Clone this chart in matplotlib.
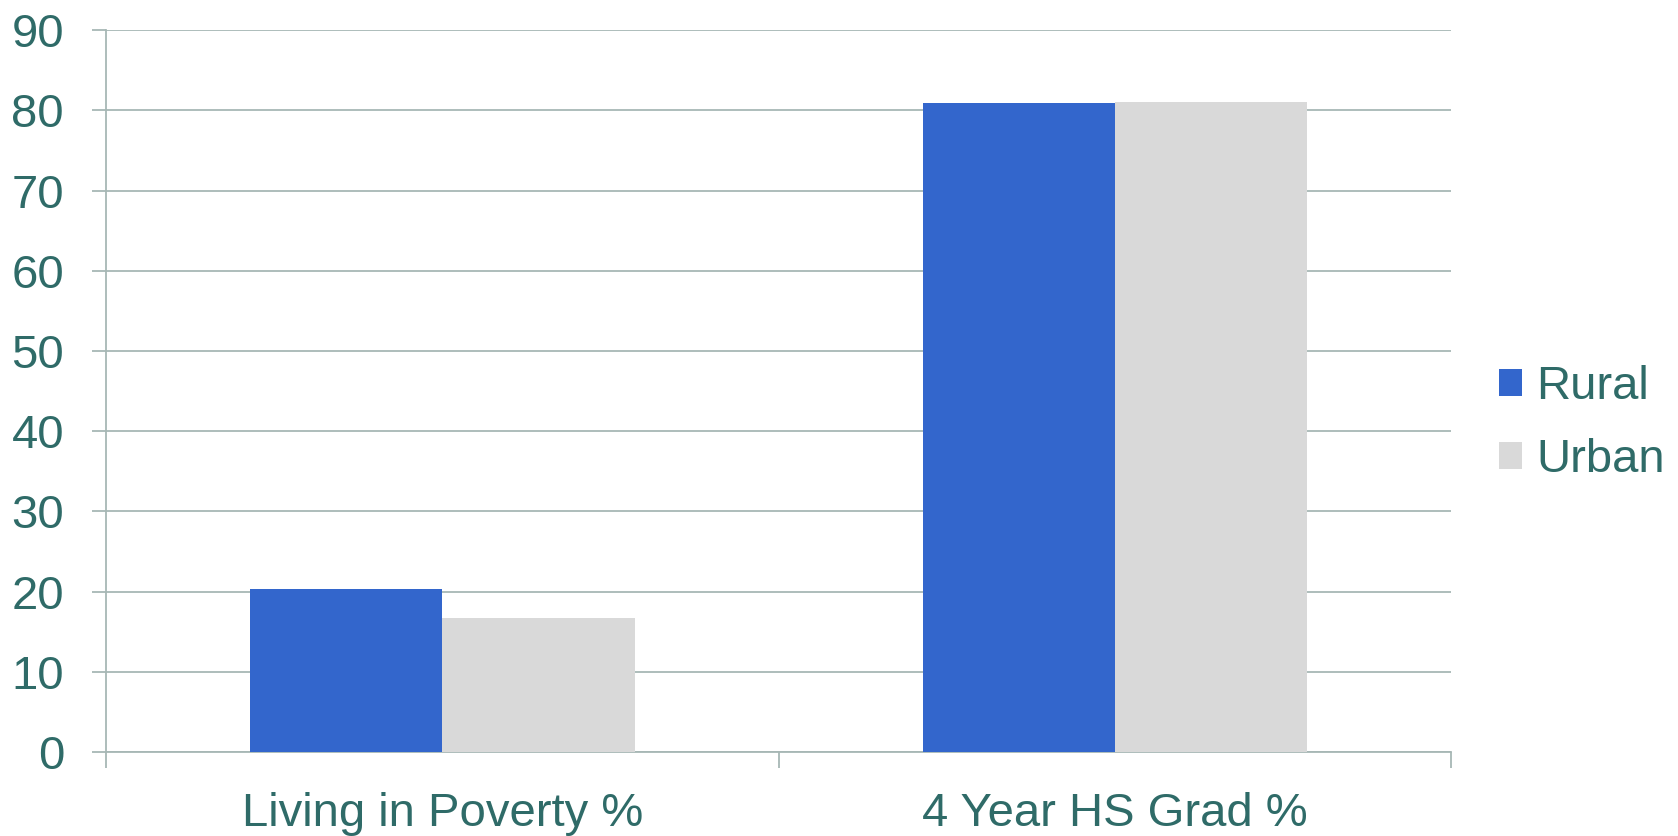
import matplotlib.pyplot as plt
import numpy as np

plt.rcParams['font.family'] = ['Liberation Sans', 'DejaVu Sans']

# chart data
categories = ['Living in Poverty %', '4 Year HS Grad %']
series = ['Rural', 'Urban']
rural = [20.3, 80.9]
urban = [16.7, 81.0]
colors = ['#3366cc', '#d9d9d9']

text_col = '#2f6b68'
grid_col = '#a7b7b5'

fig = plt.figure(figsize=(16.78, 8.36), dpi=100)
ax = fig.add_axes([0.063, 0.1005, 0.802, 0.8635])

x = np.arange(len(categories))
w = 0.286
ax.bar(x - w / 2, rural, w, color=colors[0], label=series[0], zorder=3)
ax.bar(x + w / 2, urban, w, color=colors[1], label=series[1], zorder=3)

ax.set_xlim(-0.5, len(categories) - 0.5)
ax.set_ylim(0, 90)
ax.set_yticks(np.arange(0, 91, 10))
ax.yaxis.grid(True, color=grid_col, linewidth=1.3, zorder=0)

# boundary ticks below the axis, category names on minor ticks
ax.set_xticks(np.arange(-0.5, len(categories), 1.0))
ax.set_xticklabels([])
ax.set_xticks(x, minor=True)
ax.set_xticklabels(categories, minor=True)
ax.tick_params(axis='x', which='major', length=11.5, width=1.3, color=grid_col)
ax.tick_params(axis='x', which='minor', length=0, pad=29,
               labelsize=34, labelcolor=text_col)
ax.tick_params(axis='y', length=10, width=1.3, color=grid_col, pad=20,
               labelsize=34, labelcolor=text_col)

for side in ['top', 'right']:
    ax.spines[side].set_visible(False)
for side in ['left', 'bottom']:
    ax.spines[side].set_color(grid_col)
    ax.spines[side].set_linewidth(1.3)

leg = ax.legend(loc='center left', bbox_to_anchor=(0.879, 0.493),
                bbox_transform=fig.transFigure, frameon=False,
                fontsize=34, handlelength=0.5, handleheight=0.5,
                handletextpad=0.3, labelspacing=0.62, borderpad=0)
for t in leg.get_texts():
    t.set_color(text_col)

fig.savefig('out.png', dpi=100)
